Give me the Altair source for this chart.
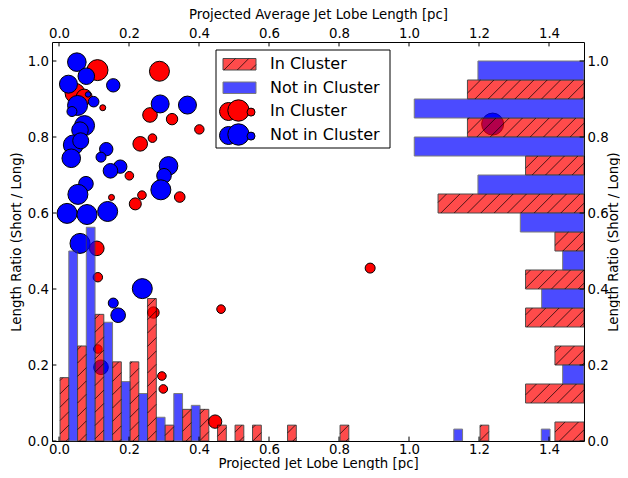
import math
import altair as alt
import pandas as pd

# ---------------- data ----------------
# Scatter: projected average jet lobe length vs length ratio, marker size (pt^2)
red_avg_len = [0.110, 0.287, 0.046, 0.072, 0.125, 0.260, 0.323, 0.401, 0.267, 0.232,
               0.201, 0.150, 0.237, 0.218, 0.345, 0.108, 0.111, 0.270, 0.463, 0.111,
               0.294, 0.298, 0.446, 0.889]
red_ratio = [0.976, 0.973, 0.915, 0.905, 0.877, 0.858, 0.847, 0.820, 0.797, 0.782,
             0.698, 0.641, 0.647, 0.624, 0.642, 0.507, 0.431, 0.338, 0.347, 0.242,
             0.171, 0.137, 0.051, 0.455]
red_msize = [357, 324, 324, 207, 29, 173, 105, 72, 60, 173,
             60, 29, 60, 117, 91, 173, 72, 105, 60, 60,
             60, 60, 145, 81]

blue_avg_len = [0.051, 0.078, 0.027, 0.155, 0.083, 0.099, 0.053, 0.037, 0.073, 0.060,
                0.041, 0.035, 0.135, 0.120, 0.175, 0.147, 0.289, 0.367, 0.313, 0.300,
                0.291, 0.077, 0.054, 0.023, 0.080, 0.139, 0.060, 0.238, 0.155, 0.169,
                0.120, 1.239, 0.062]
blue_ratio = [0.997, 0.960, 0.939, 0.936, 0.912, 0.893, 0.883, 0.867, 0.830, 0.818,
              0.779, 0.744, 0.768, 0.747, 0.722, 0.711, 0.887, 0.884, 0.724, 0.698,
              0.661, 0.677, 0.649, 0.599, 0.596, 0.604, 0.520, 0.401, 0.363, 0.331,
              0.194, 0.834, 0.790]
blue_msize = [280, 223, 262, 145, 24, 91, 324, 81, 324, 223,
              324, 280, 145, 81, 145, 173, 262, 262, 280, 173,
              324, 173, 324, 324, 324, 324, 324, 324, 81, 173,
              173, 392, 207]

# Histogram of projected jet lobe length (bin lower edges, bin width 0.05)
red_len_lo = [0.003, 0.053, 0.103, 0.153, 0.203, 0.253, 0.303, 0.353, 0.403, 0.453,
              0.503, 0.553, 0.653, 0.803, 1.203]
red_len_h = [0.1667, 0.25, 0.3333, 0.2083, 0.2083, 0.375, 0.0417, 0.0833, 0.0833, 0.0417,
             0.0417, 0.0417, 0.0417, 0.0417, 0.0417]
blue_len_lo = [0.003, 0.053, 0.103, 0.153, 0.203, 0.253, 0.303, 0.353, 1.103, 1.353]
blue_len_h = [0.5, 0.5625, 0.3125, 0.1563, 0.125, 0.0625, 0.125, 0.0938, 0.0313, 0.0313]
len_bin_width = 0.05

# Histogram of length ratio (bin lower edges, bin width 0.1), drawn from the right
ratio_lo = [0.0, 0.1, 0.2, 0.3, 0.4, 0.5, 0.6, 0.7, 0.8, 0.9]
red_ratio_w = [0.083, 0.167, 0.083, 0.167, 0.167, 0.083, 0.417, 0.167, 0.333, 0.333]
blue_ratio_w = [0.0, 0.061, 0.0, 0.121, 0.061, 0.182, 0.303, 0.485, 0.485, 0.303]
ratio_bin_width = 0.1

x_ticks = [0.0, 0.2, 0.4, 0.6, 0.8, 1.0, 1.2, 1.4]
y_ticks = [0.0, 0.2, 0.4, 0.6, 0.8, 1.0]

labels = ["In Cluster", "Not in Cluster"]

# ---------------- layout ----------------
W, H = 532, 399
X_DOM = [-0.02, 1.5]
Y_DOM = [0.0, 1.05]
FONT = "DejaVu Sans"
FS = 13.3
TICK = 4.4
RED = "#ff0000"
BLUE = "#0000ff"
ALPHA = 0.7
PITCH = 13.33

xs = alt.Scale(domain=X_DOM, nice=False, zero=False)
ys = alt.Scale(domain=Y_DOM, nice=False, zero=False)


def to_px(x):
    return (x - X_DOM[0]) / (X_DOM[1] - X_DOM[0]) * W


def to_py(y):
    return H - (y - Y_DOM[0]) / (Y_DOM[1] - Y_DOM[0]) * H


def from_px(p):
    return X_DOM[0] + p / W * (X_DOM[1] - X_DOM[0])


def from_py(p):
    return Y_DOM[0] + (H - p) / H * (Y_DOM[1] - Y_DOM[0])


def hatch_px(L, R, T, B):
    segs = []
    kmin = math.ceil((L + T) / PITCH)
    kmax = math.floor((R + B) / PITCH)
    for k in range(kmin, kmax + 1):
        c = k * PITCH
        lo = max(L, c - B)
        hi = min(R, c - T)
        if hi - lo > 0.6:
            segs.append((lo, c - lo, hi, c - hi))
    return segs


# scatter table
scatter_df = pd.DataFrame({
    "len": red_avg_len + blue_avg_len,
    "ratio": red_ratio + blue_ratio,
    "msize": red_msize + blue_msize,
    "group": [labels[0]] * len(red_avg_len) + [labels[1]] * len(blue_avg_len),
})

# bottom histogram tables (red left half of bin, blue right half)
half = len_bin_width / 2
red_len_df = pd.DataFrame({"lo": red_len_lo, "h": red_len_h})
red_len_df["hi"] = red_len_df["lo"] + half
red_len_df["base"] = 0.0
blue_len_df = pd.DataFrame({"lo": blue_len_lo, "h": blue_len_h})
blue_len_df["lo"] = blue_len_df["lo"] + half
blue_len_df["hi"] = blue_len_df["lo"] + half
blue_len_df["base"] = 0.0

# right histogram tables (red lower half of bin, blue upper half)
rhalf = ratio_bin_width / 2
red_ratio_df = pd.DataFrame({"lo": ratio_lo, "w": red_ratio_w})
red_ratio_df = red_ratio_df[red_ratio_df["w"] > 0].copy()
red_ratio_df["hi"] = red_ratio_df["lo"] + rhalf
red_ratio_df["xr"] = X_DOM[1]
red_ratio_df["xl"] = X_DOM[1] - red_ratio_df["w"]
blue_ratio_df = pd.DataFrame({"lo": ratio_lo, "w": blue_ratio_w})
blue_ratio_df = blue_ratio_df[blue_ratio_df["w"] > 0].copy()
blue_ratio_df["lo"] = blue_ratio_df["lo"] + rhalf
blue_ratio_df["hi"] = blue_ratio_df["lo"] + rhalf
blue_ratio_df["xr"] = X_DOM[1]
blue_ratio_df["xl"] = X_DOM[1] - blue_ratio_df["w"]

# hatch lines for the red bars
hatch_rows = []
for _, r in red_len_df.iterrows():
    for (a, b, c, d) in hatch_px(to_px(r["lo"]), to_px(r["hi"]), to_py(r["h"]), to_py(0.0)):
        hatch_rows.append({"x": from_px(a), "y": from_py(b), "x2": from_px(c), "y2": from_py(d)})
for _, r in red_ratio_df.iterrows():
    for (a, b, c, d) in hatch_px(to_px(r["xl"]), to_px(r["xr"]), to_py(r["hi"]), to_py(r["lo"])):
        hatch_rows.append({"x": from_px(a), "y": from_py(b), "x2": from_px(c), "y2": from_py(d)})
hatch_df = pd.DataFrame(hatch_rows)

axis_common = dict(ticks=False, tickSize=0, domain=False, grid=False, labelFont=FONT,
                   labelFontSize=FS, labelColor="black", titleFont=FONT, titleFontSize=FS,
                   titleFontWeight="normal", titleColor="black", labelFlush=False,
                   labelOverlap=False)

scatter = alt.Chart(scatter_df).mark_point(
    filled=True, shape="circle", stroke="black", strokeWidth=1, opacity=1
).encode(
    x=alt.X("len:Q", scale=xs, axis=None),
    y=alt.Y("ratio:Q", scale=ys, axis=None),
    size=alt.Size("msize:Q", scale=alt.Scale(domain=[0, 810], range=[0, 1000]), legend=None),
    color=alt.Color("group:N", scale=alt.Scale(domain=labels, range=[RED, BLUE]), legend=None),
)

red_len_bars = alt.Chart(red_len_df).mark_rect(
    fill=RED, stroke="black", strokeWidth=1, opacity=ALPHA
).encode(
    x=alt.X("lo:Q", scale=xs, axis=None), x2="hi:Q",
    y=alt.Y("h:Q", scale=ys, axis=None), y2="base:Q",
)
blue_len_bars = alt.Chart(blue_len_df).mark_rect(
    fill=BLUE, stroke="#444444", strokeWidth=1, opacity=ALPHA
).encode(
    x=alt.X("lo:Q", scale=xs, axis=None), x2="hi:Q",
    y=alt.Y("h:Q", scale=ys, axis=None), y2="base:Q",
)
red_ratio_bars = alt.Chart(red_ratio_df).mark_rect(
    fill=RED, stroke="black", strokeWidth=1, opacity=ALPHA
).encode(
    x=alt.X("xl:Q", scale=xs, axis=None), x2="xr:Q",
    y=alt.Y("lo:Q", scale=ys, axis=None), y2="hi:Q",
)
blue_ratio_bars = alt.Chart(blue_ratio_df).mark_rect(
    fill=BLUE, stroke="#444444", strokeWidth=1, opacity=ALPHA
).encode(
    x=alt.X("xl:Q", scale=xs, axis=None), x2="xr:Q",
    y=alt.Y("lo:Q", scale=ys, axis=None), y2="hi:Q",
)
hatch = alt.Chart(hatch_df).mark_rule(color="black", strokeWidth=1, opacity=ALPHA).encode(
    x=alt.X("x:Q", scale=xs, axis=None), x2="x2:Q",
    y=alt.Y("y:Q", scale=ys, axis=None), y2="y2:Q",
)

xt_df = pd.DataFrame({"t": x_ticks})
yt_df = pd.DataFrame({"t": y_ticks})

bottom_ticks = alt.Chart(xt_df).mark_rule(color="black", strokeWidth=1).encode(
    x=alt.X("t:Q", scale=xs, axis=alt.Axis(
        orient="bottom", values=x_ticks, format=".1f",
        title="Projected Jet Lobe Length [pc]",
        labelBaseline="alphabetic", labelPadding=12.5,
        titleBaseline="alphabetic", titleY=26.2, titleX=W / 2, titleAlign="center",
        **axis_common)),
    y=alt.value(H), y2=alt.value(H - TICK),
)
top_ticks = alt.Chart(xt_df).mark_rule(color="black", strokeWidth=1).encode(
    x=alt.X("t:Q", scale=xs, axis=alt.Axis(
        orient="top", values=x_ticks, format=".1f",
        title="Projected Average Jet Lobe Length [pc]",
        labelBaseline="alphabetic", labelPadding=4.5,
        titleBaseline="alphabetic", titleY=-24, titleX=W / 2, titleAlign="center",
        **axis_common)),
    y=alt.value(0), y2=alt.value(TICK),
)
left_ticks = alt.Chart(yt_df).mark_rule(color="black", strokeWidth=1).encode(
    y=alt.Y("t:Q", scale=ys, axis=alt.Axis(
        orient="left", values=y_ticks, format=".1f",
        title="Length Ratio (Short / Long)", labelPadding=3.5,
        titleAngle=270, titleBaseline="alphabetic", titleAlign="center",
        titleX=-32, titleY=H / 2,
        **axis_common)),
    x=alt.value(0), x2=alt.value(TICK),
)
right_ticks = alt.Chart(yt_df).mark_rule(color="black", strokeWidth=1).encode(
    y=alt.Y("t:Q", scale=ys, axis=alt.Axis(
        orient="right", values=y_ticks, format=".1f",
        title="Length Ratio (Short / Long)", labelPadding=3,
        titleAngle=270, titleBaseline="alphabetic", titleAlign="center",
        titleX=33.5, titleY=H / 2,
        **axis_common)),
    x=alt.value(W), x2=alt.value(W - TICK),
)

# ---------------- legend (drawn in pixel space) ----------------
one = pd.DataFrame({"a": [0]})


def vrect(x, x2, y, y2, **kw):
    return alt.Chart(one).mark_rect(**kw).encode(
        x=alt.value(x), x2=alt.value(x2), y=alt.value(y), y2=alt.value(y2))


def vrule(x, y, x2, y2, **kw):
    return alt.Chart(one).mark_rule(**kw).encode(
        x=alt.value(x), x2=alt.value(x2), y=alt.value(y), y2=alt.value(y2))


def vpoint(x, y, size, color):
    return alt.Chart(one).mark_point(filled=True, shape="circle", fill=color, stroke="black",
                                     strokeWidth=1, opacity=1, size=size).encode(
        x=alt.value(x), y=alt.value(y))


def vtext(x, y, txt):
    return alt.Chart(one).mark_text(text=txt, font=FONT, fontSize=16, align="left",
                                    baseline="middle", color="black").encode(
        x=alt.value(x), y=alt.value(y))


legend_layers = [vrect(164, 338, 8, 106, fill="white", stroke="black", strokeWidth=1)]
legend_layers.append(vrect(171, 204, 16.5, 28, fill=RED, stroke="black", strokeWidth=1, opacity=ALPHA))
for (a, b, c, d) in hatch_px(171, 204, 16.5, 28):
    legend_layers.append(vrule(a, b, c, d, color="black", strokeWidth=1, opacity=ALPHA))
legend_layers.append(vrect(171, 204, 40, 51.5, fill=BLUE, stroke="#444444", strokeWidth=1, opacity=ALPHA))
for (cy, col) in [(69.5, RED), (93.5, BLUE)]:
    legend_layers.append(vpoint(176.5, cy, 324, col))
    legend_layers.append(vpoint(186.5, cy - 1, 458, col))
    legend_layers.append(vpoint(199, cy + 0.6, 64, col))
legend_layers.append(vtext(218, 21.5, labels[0]))
legend_layers.append(vtext(218, 45.5, labels[1]))
legend_layers.append(vtext(218, 69, labels[0]))
legend_layers.append(vtext(218, 93, labels[1]))

chart = alt.layer(
    scatter, red_len_bars, blue_len_bars, red_ratio_bars, blue_ratio_bars, hatch,
    bottom_ticks, top_ticks, left_ticks, right_ticks, *legend_layers
).resolve_scale(
    x="shared", y="shared"
).resolve_axis(
    x="independent", y="independent"
).properties(
    width=W, height=H,
    autosize=alt.AutoSizeParams(type="none"),
    padding={"left": 44, "top": 34, "right": 36, "bottom": 29},
    background="white",
).configure_view(
    stroke="black", strokeWidth=1
)

chart.save("out.html", embed_options={"renderer": "svg", "actions": False})
